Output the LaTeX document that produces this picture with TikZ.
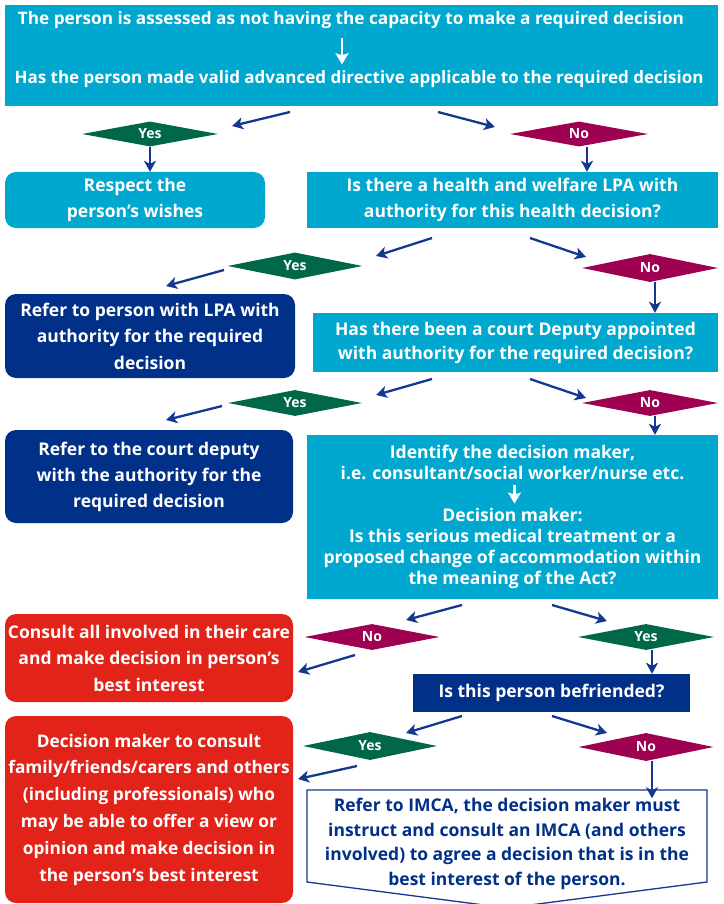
\documentclass[tikz,border=0pt]{standalone}
\usepackage{fontspec}
\setmainfont{Open Sans}
\usetikzlibrary{shapes.geometric,arrows.meta}
\definecolor{cy}{RGB}{0,167,206}
\definecolor{nb}{RGB}{0,48,135}
\definecolor{ab}{RGB}{20,56,145}
\definecolor{gr}{RGB}{0,104,72}
\definecolor{mr}{RGB}{158,0,82}
\definecolor{rd}{RGB}{226,35,26}
\begin{document}
\begin{tikzpicture}[x=1pt,y=-1pt,
  txt/.style={inner sep=0pt, text=white, font=\bfseries\fontsize{17.5}{26}\selectfont, align=center},
  sqbox/.style={fill=cy, inner sep=0pt},
  rbox/.style={inner sep=0pt, rounded corners=11pt},
  dia/.style={diamond, inner sep=0pt, aspect=5, text=white, font=\bfseries\fontsize{14}{14}\selectfont},
  yesd/.style={dia, fill=gr},
  nod/.style={dia, fill=mr},
  arr/.style={draw=ab, line width=2.3pt, -{Stealth[length=11pt,width=12pt,inset=3pt]}},
  warr/.style={draw=white, line width=2.3pt, -{Stealth[length=11pt,width=13pt,inset=2pt]}}
]
\useasboundingbox (0,0) rectangle (723,904);

% top box
\node[sqbox, minimum width=713pt, minimum height=101pt] (top) at (361.5,55.5) {};
\node[txt, font=\bfseries\fontsize{17.2}{20}\selectfont] (t1) at (351,20) {The person is assessed as not having the capacity to make a required decision};
\node[txt, font=\bfseries\fontsize{17}{20}\selectfont] (t2) at (359,79) {Has the person made valid advanced directive applicable to the required decision};
\draw[warr] ([xshift=-9pt,yshift=-9pt]t1.south) -- ([xshift=-17pt,yshift=6pt]t2.north);

% row 1
\node[yesd, minimum width=136pt, minimum height=25pt] (y1) at (150,134) {Yes};
\node[nod, minimum width=138pt, minimum height=25pt] (n1) at (579,134) {No};
\node[rbox, fill=cy, minimum width=260pt, minimum height=56pt] (resp) at (135,200) {};
\node[txt] at (resp.center) {Respect the\\person’s wishes};
\node[sqbox, minimum width=411pt, minimum height=56pt] (lpaq) at (512.5,200) {};
\node[txt] at (lpaq.center) {Is there a health and welfare LPA with\\authority for this health decision?};

% row 2
\node[yesd, minimum width=135pt, minimum height=27pt] (y2) at (295,266) {Yes};
\node[nod, minimum width=136pt, minimum height=28pt] (n2) at (650,268) {No};
\node[rbox, fill=nb, minimum width=290pt, minimum height=84pt] (lpar) at (150,336) {};
\node[txt, font=\bfseries\fontsize{17.5}{26.5}\selectfont] at (lpar.center) {Refer to person with LPA with\\authority for the required\\decision};
\node[sqbox, minimum width=405pt, minimum height=59pt] (depq) at (515.5,342.5) {};
\node[txt, font=\bfseries\fontsize{17.5}{24}\selectfont] at (depq.center) {Has there been a court Deputy appointed\\with authority for the required decision?};

% row 3
\node[yesd, minimum width=134pt, minimum height=26pt] (y3) at (295,403) {Yes};
\node[nod, minimum width=136pt, minimum height=26pt] (n3) at (650,403) {No};
\node[rbox, fill=nb, minimum width=288pt, minimum height=93pt] (depr) at (149,476.5) {};
\node[txt] at (depr.center) {Refer to the court deputy\\with the authority for the\\required decision};
\node[sqbox, minimum width=411pt, minimum height=164pt] (ident) at (512.5,517) {};
\node[txt, font=\bfseries\fontsize{17.5}{21}\selectfont] (i1) at (512.5,462) {Identify the decision maker,\\i.e. consultant/social worker/nurse etc.};
\node[txt, font=\bfseries\fontsize{17.5}{21}\selectfont] (i2) at (512.5,548) {Decision maker:\\Is this serious medical treatment or a\\proposed change of accommodation within\\the meaning of the Act?};
\draw[warr] ([xshift=2pt,yshift=-5pt]i1.south) -- ([xshift=2pt,yshift=4pt]i2.north);

% row 4
\node[nod, minimum width=135pt, minimum height=26pt] (n4) at (372,637) {No};
\node[yesd, minimum width=136pt, minimum height=26pt] (y4) at (646,637) {Yes};
\node[rbox, fill=rd, minimum width=288pt, minimum height=88pt] (cons) at (149,658) {};
\node[txt, font=\bfseries\fontsize{17.5}{26.5}\selectfont] at (cons.center) {Consult all involved in their care\\and make decision in person’s\\best interest};
\node[fill=nb, inner sep=0pt, minimum width=277pt, minimum height=38pt] (bef) at (551.5,693) {};
\node[txt] at (bef.center) {Is this person befriended?};

% row 5
\node[yesd, minimum width=134pt, minimum height=28pt] (y5) at (370,746) {Yes};
\node[nod, minimum width=135pt, minimum height=28pt] (n5) at (646,747) {No};
\node[rbox, fill=rd, minimum width=288pt, minimum height=187pt] (fam) at (149,809.5) {};
\node[txt, font=\bfseries\fontsize{17.3}{26.8}\selectfont] at (fam.center) {Decision maker to consult\\family/friends/carers and others\\(including professionals) who\\may be able to offer a view or\\opinion and make decision in\\the person’s best interest};
\draw[draw=ab, line width=1.3pt, fill=white] (307,790) -- (707,790) -- (707,882) -- (507,908) -- (307,882) -- cycle;
\node[txt, text=nb, font=\bfseries\fontsize{17.5}{24.5}\selectfont] (imca) at (507,844) {Refer to IMCA, the decision maker must\\instruct and consult an IMCA (and others\\involved) to agree a decision that is in the\\best interest of the person.};

% arrow coordinates
\coordinate (a1s) at (290,112); \coordinate (a1e) at (232,126);
\coordinate (a2s) at (438,112); \coordinate (a2e) at (495,127);
\coordinate (a5s) at (432,238); \coordinate (a5e) at (376,256);
\coordinate (a6s) at (530,238); \coordinate (a6e) at (586,257);
\coordinate (a7s) at (224,270); \coordinate (a7e) at (166,286);
\coordinate (a9s) at (432,379); \coordinate (a9e) at (376,395);
\coordinate (a10s) at (530,379); \coordinate (a10e) at (586,398);
\coordinate (a11s) at (222,406); \coordinate (a11e) at (166,420);
\coordinate (a13s) at (462,605); \coordinate (a13e) at (406,620);
\coordinate (a14s) at (552,605); \coordinate (a14e) at (607,621);
\coordinate (a15s) at (355,655); \coordinate (a15e) at (298,672);
\coordinate (a17s) at (462,716); \coordinate (a17e) at (406,733);
\coordinate (a18s) at (552,716); \coordinate (a18e) at (607,733);
\coordinate (a19s) at (357,766); \coordinate (a19e) at (298,779);

\draw[arr] (a1s) -- (a1e);
\draw[arr] (a2s) -- (a2e);
\draw[arr] (y1.south) -- (y1.south |- resp.north);
\draw[arr] ([xshift=8pt]n1.south) -- ([xshift=8pt]n1.south |- lpaq.north);
\draw[arr] (a5s) -- (a5e);
\draw[arr] (a6s) -- (a6e);
\draw[arr] (a7s) -- (a7e);
\draw[arr] ([xshift=5pt]n2.south) -- ([xshift=5pt]n2.south |- depq.north);
\draw[arr] (a9s) -- (a9e);
\draw[arr] (a10s) -- (a10e);
\draw[arr] (a11s) -- (a11e);
\draw[arr] ([xshift=5pt]n3.south) -- ([xshift=5pt]n3.south |- ident.north);
\draw[arr] (a13s) -- (a13e);
\draw[arr] (a14s) -- (a14e);
\draw[arr] (a15s) -- (a15e);
\draw[arr] ([xshift=6pt]y4.south) -- ([xshift=6pt]y4.south |- bef.north);
\draw[arr] (a17s) -- (a17e);
\draw[arr] (a18s) -- (a18e);
\draw[arr] (a19s) -- (a19e);
\draw[arr] ([xshift=6pt]n5.south) -- ([xshift=6pt]n5.south |- imca.north);
\end{tikzpicture}
\end{document}
